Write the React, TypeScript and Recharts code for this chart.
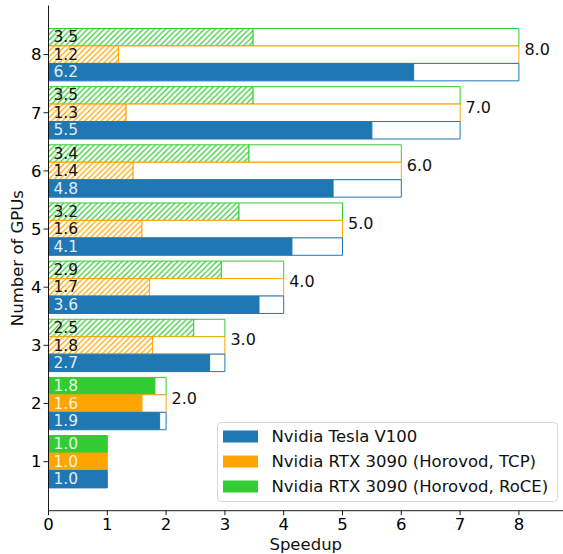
import React from 'react';
import { BarChart, Bar, XAxis, YAxis, Cell, LabelList, Legend } from 'recharts';

const gpus = [1, 2, 3, 4, 5, 6, 7, 8];
const idealSpeedup = [1, 2, 3, 4, 5, 6, 7, 8];
const v100 = [1.0, 1.89, 2.74, 3.58, 4.14, 4.84, 5.5, 6.21];
const rtxTcp = [1.0, 1.59, 1.77, 1.72, 1.59, 1.44, 1.32, 1.19];
const rtxRoce = [1.0, 1.81, 2.47, 2.94, 3.24, 3.41, 3.48, 3.48];
const xTicks = [0, 1, 2, 3, 4, 5, 6, 7, 8];
const seriesNames = [
  'Nvidia Tesla V100',
  'Nvidia RTX 3090 (Horovod, TCP)',
  'Nvidia RTX 3090 (Horovod, RoCE)',
];
const hatchFromGpus = 3;

const BLUE = '#1f77b4';
const ORANGE = '#ffa500';
const GREEN = '#32cd32';
const FONT = '"DejaVu Sans", sans-serif';

const data = gpus
  .map((g, i) => ({
    gpus: String(g),
    ideal: idealSpeedup[i],
    hatched: g >= hatchFromGpus,
    v100: v100[i],
    v100Rest: +(idealSpeedup[i] - v100[i]).toFixed(4),
    tcp: rtxTcp[i],
    tcpRest: +(idealSpeedup[i] - rtxTcp[i]).toFixed(4),
    roce: rtxRoce[i],
    roceRest: +(idealSpeedup[i] - rtxRoce[i]).toFixed(4),
  }))
  .reverse();

const valueLabel = (canHatch: boolean) => (props: any) => {
  const { x, y, height, value, index } = props;
  const row = data[index];
  const dark = canHatch && row && row.hatched;
  return (
    <text
      x={Number(x) + 5}
      y={Number(y) + Number(height) / 2}
      dy="0.33em"
      fontSize={15.5}
      fontFamily={FONT}
      fill={dark ? '#111' : '#ffffff'}
      fillOpacity={dark ? 1 : 0.88}
    >
      {Number(value).toFixed(1)}
    </text>
  );
};

const idealLabel = (props: any) => {
  const { x, y, width, height, value } = props;
  return (
    <text
      x={Number(x) + Number(width) + 5.5}
      y={Number(y) + Number(height) / 2}
      fontSize={16}
      fontFamily={FONT}
      fill="#111"
    >
      {Number(value).toFixed(1)}
    </text>
  );
};

const legendColors = [BLUE, ORANGE, GREEN];

const renderLegend = () => (
  <svg width={342} height={81} style={{ display: 'block' }}>
    <rect x={0.5} y={0.5} width={340} height={79} rx={4} ry={4} fill="#fff" fillOpacity={0.8} stroke="#d6d6d6" />
    {seriesNames.map((name, i) => (
      <g key={name}>
        <rect x={6} y={8.5 + i * 25} width={35} height={12} fill={legendColors[i]} />
        <text x={54.5} y={14.5 + i * 25} dy="0.36em" fontSize={16.5} fontFamily={FONT} fill="#111">
          {name}
        </text>
      </g>
    ))}
  </svg>
);

const hatchPattern = (id: string, color: string) => (
  <pattern id={id} patternUnits="userSpaceOnUse" width={5.56} height={5.56}>
    <rect width={5.56} height={5.56} fill="#fff" />
    <path
      d="M-1,1 L1,-1 M0,5.56 L5.56,0 M4.56,6.56 L6.56,4.56"
      stroke={color}
      strokeWidth={1.2}
    />
  </pattern>
);

export default function App() {
  return (
    <div style={{ position: 'absolute', left: 0, top: 0, width: 563, height: 554, fontFamily: FONT }}>
      <BarChart
        width={563}
        height={554}
        data={data}
        layout="vertical"
        margin={{ top: 5.5, right: 0, bottom: 0, left: 0 }}
        barGap={0}
        barSize={17.45}
      >
        <defs>
          {hatchPattern('hatch-tcp', ORANGE)}
          {hatchPattern('hatch-roce', GREEN)}
        </defs>
        <XAxis
          type="number"
          domain={[0, 8.75]}
          ticks={xTicks}
          allowDataOverflow
          height={43.3}
          tickSize={4.5}
          tickMargin={3}
          tick={{ fill: '#000', fontSize: 16.5, fontFamily: FONT }}
          axisLine={{ stroke: '#000', strokeWidth: 0.9 }}
          tickLine={{ stroke: '#000', strokeWidth: 0.9 }}
          label={{
            content: (p: any) => {
              const vb = p.viewBox || {};
              return (
                <text
                  x={vb.x + vb.width / 2}
                  y={550}
                  textAnchor="middle"
                  fontSize={16.5}
                  fontFamily={FONT}
                  fill="#111"
                >
                  Speedup
                </text>
              );
            },
          }}
        />
        <XAxis
          xAxisId="top"
          orientation="top"
          type="number"
          domain={[0, 8.75]}
          allowDataOverflow
          height={0}
          tick={false}
          tickLine={false}
          axisLine={{ stroke: '#000', strokeWidth: 0.9 }}
        />
        <YAxis
          type="category"
          dataKey="gpus"
          width={48.5}
          padding={{ top: 20, bottom: 20 }}
          tickSize={5}
          tickMargin={2}
          tick={{ fill: '#000', fontSize: 16.5, fontFamily: FONT }}
          axisLine={{ stroke: '#000', strokeWidth: 0.9 }}
          tickLine={{ stroke: '#000', strokeWidth: 0.9 }}
          label={{
            content: (p: any) => {
              const vb = p.viewBox || {};
              const cx = 23.3;
              const cy = vb.y + vb.height / 2;
              return (
                <text
                  x={cx}
                  y={cy}
                  transform={`rotate(-90 ${cx} ${cy})`}
                  textAnchor="middle"
                  fontSize={16.5}
                  fontFamily={FONT}
                  fill="#111"
                >
                  Number of GPUs
                </text>
              );
            },
          }}
        />

        <Bar dataKey="roce" stackId="roce" isAnimationActive={false} strokeWidth={1}>
          {data.map((d, i) => (
            <Cell key={i} fill={d.hatched ? 'url(#hatch-roce)' : GREEN} stroke={GREEN} />
          ))}
          <LabelList dataKey="roce" content={valueLabel(true)} />
        </Bar>
        <Bar dataKey="roceRest" stackId="roce" isAnimationActive={false} fill="#fff" stroke={GREEN} strokeWidth={1} />

        <Bar dataKey="tcp" stackId="tcp" isAnimationActive={false} strokeWidth={1}>
          {data.map((d, i) => (
            <Cell key={i} fill={d.hatched ? 'url(#hatch-tcp)' : ORANGE} stroke={ORANGE} />
          ))}
          <LabelList dataKey="tcp" content={valueLabel(true)} />
        </Bar>
        <Bar dataKey="tcpRest" stackId="tcp" isAnimationActive={false} fill="#fff" stroke={ORANGE} strokeWidth={1}>
          <LabelList dataKey="ideal" content={idealLabel} />
        </Bar>

        <Bar dataKey="v100" stackId="v100" isAnimationActive={false} fill={BLUE} stroke={BLUE} strokeWidth={1}>
          <LabelList dataKey="v100" content={valueLabel(false)} />
        </Bar>
        <Bar dataKey="v100Rest" stackId="v100" isAnimationActive={false} fill="#fff" stroke={BLUE} strokeWidth={1} />

        <Legend
          layout="horizontal"
          verticalAlign="middle"
          align="center"
          wrapperStyle={{ position: 'absolute', left: 217, top: 422, width: 342, height: 81 }}
          content={renderLegend}
        />
      </BarChart>
    </div>
  );
}
